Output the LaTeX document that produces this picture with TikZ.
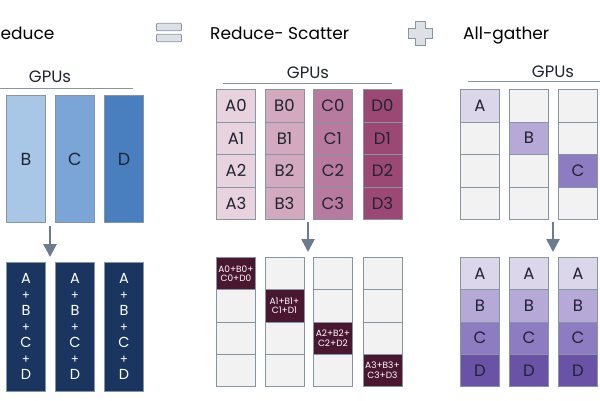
\documentclass[tikz,border=0pt]{standalone}
\usepackage{fontspec}
\setmainfont{Poppins}
\usetikzlibrary{arrows.meta,positioning,calc}

\definecolor{cellline}{HTML}{8695A4}
\definecolor{celltext}{HTML}{1E2430}
\definecolor{emptycell}{HTML}{F2F2F3}
\definecolor{arrgray}{HTML}{6B7C8E}
\definecolor{icongray}{HTML}{DDE1E6}
\definecolor{blueA}{HTML}{A8C6E6}
\definecolor{blueB}{HTML}{7AA5D6}
\definecolor{blueC}{HTML}{4A7FBF}
\definecolor{navy}{HTML}{1A3660}
\definecolor{pinkA}{HTML}{E7D2DE}
\definecolor{pinkB}{HTML}{D3A9C0}
\definecolor{pinkC}{HTML}{B87B9F}
\definecolor{pinkD}{HTML}{9C4874}
\definecolor{plum}{HTML}{4A1730}
\definecolor{lavA}{HTML}{DCD6EB}
\definecolor{lavB}{HTML}{B6A9D8}
\definecolor{lavC}{HTML}{8E7CC2}
\definecolor{lavD}{HTML}{6A53A6}

\newcommand{\pl}{{\fontsize{12}{12}\selectfont +}}

\tikzset{
  title/.style={font=\fontsize{17}{20}\selectfont,text=black,inner sep=0pt},
  gpus/.style={font=\fontsize{16.5}{18}\selectfont,text=celltext,inner sep=0pt},
  gpuline/.style={draw=cellline,line width=0.9pt},
  col/.style={draw=cellline,line width=0.9pt,minimum width=39pt,inner sep=0pt,
    anchor=north west,text=celltext,font=\fontsize{16.5}{18}\selectfont},
  cell/.style={col,minimum height=32.5pt,fill=emptycell},
  cellb/.style={col,minimum height=32.25pt,fill=emptycell},
  sumcell/.style={cellb,fill=plum,text=white,align=center,
    font=\fontsize{9}{9.5}\selectfont},
  bar/.style={draw=cellline,fill=icongray,line width=0.8pt,rounded corners=1pt,
    minimum width=25pt,minimum height=7.5pt,inner sep=0pt},
  downarr/.style={-{Triangle[width=13pt,length=13pt]},draw=arrgray,line width=2.6pt}
}

\begin{document}
\begin{tikzpicture}[x=1pt,y=-1pt,>=Latex]
  \useasboundingbox (0,0) rectangle (600,400);

  % headings and the two signs between them
  \node[title,anchor=base west] (allreduce) at (0.5,39) {educe};
  \node[bar] (eqtop) at (169,27) {};
  \node[bar] (eqbot) at (169,38) {};
  \node[title,anchor=base west] (redscat) at (210,39) {Reduce- Scatter};
  \filldraw[draw=cellline,fill=icongray,line width=0.8pt]
    (415,21) -- (425,21) -- (425,28) -- (432,28) -- (432,38) -- (425,38)
    -- (425,45) -- (415,45) -- (415,38) -- (408,38) -- (408,28) -- (415,28) -- cycle;
  \node[title,anchor=base west] (allgath) at (463,39) {All-gather};

  % GPUs labels
  \node[gpus,anchor=base] (gpuL) at (50,82) {GPUs};
  \draw[gpuline] (0,88) -- (133,88);
  \node[gpus,anchor=base] (gpuM) at (308,78) {GPUs};
  \draw[gpuline] (223,83) -- (392,83);
  \node[gpus,anchor=base] (gpuR) at (553,77) {GPUs};
  \draw[gpuline] (468,81) -- (600,81);

  % all-reduce
  \foreach \n/\x/\c in {B/6/blueA,C/55/blueB,D/104/blueC}
    \node[col,fill=\c,minimum height=127pt,font=\fontsize{17.5}{18}\selectfont]
      (ar-\n) at (\x,95) {\n};
  \foreach \n/\x in {B/6,C/55,D/104}
    \node[col,fill=navy,text=white,minimum height=129pt,align=center,
      font=\fontsize{14.5}{16}\selectfont] (sum-\n) at (\x,262)
      {A\\\pl\\B\\\pl\\C\\\pl\\D};
  \coordinate (arS) at (50,226);
  \coordinate (arE) at (50,257);
  \draw[downarr] (arS) -- (arE);

  % reduce-scatter
  \foreach \n/\x/\c in {A/216/pinkA,B/264.5/pinkB,C/313/pinkC,D/362.5/pinkD}
    \foreach \r in {0,...,3}
      \node[cell,fill=\c] (rs-\n\r) at (\x,{89+32.5*\r}) {\n\r};
  \foreach \x [count=\i from 0] in {216,264.5,313,362.5}
    \foreach \r in {0,...,3}
      \node[cellb] (out-\i\r) at (\x,{257+32.25*\r}) {};
  \node[sumcell] (part0) at (216,257) {A0+B0+\\C0+D0};
  \node[sumcell] (part1) at (264.5,289.25) {A1+B1+\\C1+D1};
  \node[sumcell] (part2) at (313,321.5) {A2+B2+\\C2+D2};
  \node[sumcell] (part3) at (362.5,353.75) {A3+B3+\\C3+D3};
  \coordinate (rsS) at (308,222);
  \coordinate (rsE) at (308,252);
  \draw[downarr] (rsS) -- (rsE);

  % all-gather
  \foreach \x [count=\i from 0] in {460,509,558}
    \foreach \r in {0,...,3}
      \node[cell] (ag-\i\r) at (\x,{89+32.5*\r}) {};
  \node[cell,fill=lavA] (hasA) at (460,89) {A};
  \node[cell,fill=lavB] (hasB) at (509,121.5) {B};
  \node[cell,fill=lavC] (hasC) at (558,154) {C};
  \foreach \x [count=\i from 0] in {460,509,558}
    \foreach \n/\c [count=\r from 0] in {A/lavA,B/lavB,C/lavC,D/lavD}
      \node[cellb,fill=\c] (full-\i\r) at (\x,{257+32.25*\r}) {\n};
  \coordinate (agS) at (553,222);
  \coordinate (agE) at (553,252);
  \draw[downarr] (agS) -- (agE);
\end{tikzpicture}
\end{document}
